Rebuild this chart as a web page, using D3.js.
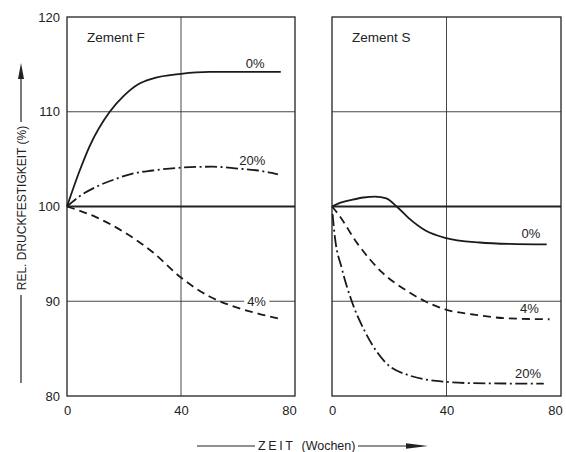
<!DOCTYPE html>
<html><head><meta charset="utf-8">
<script src="https://cdn.jsdelivr.net/npm/d3@7"></script>
<style>
html,body{margin:0;padding:0;background:#fff;}
text{font-family:"Liberation Sans",Arial,sans-serif;fill:#222;}
</style></head>
<body><svg id="c" width="566" height="452"></svg>
<script>
const xTicks=[0,40,80];
const yTicks=[80,90,100,110,120];
const panelTitles=["Zement F","Zement S"];
const seriesNames=["0%","4%","20%"];
// Zement F
const F0=[[0,100],[4.6,103.9],[8,106.4],[15,110],[20,111.7],[25,112.9],[30,113.5],[40,114],[50,114.2],[75,114.2]];
const F4=[[0,100],[10,98.9],[20,97.3],[30,95.2],[40,92.5],[50,90.5],[60,89.3],[67,88.7],[74,88.2]];
const F20=[[0,100],[5,101.2],[10.4,102.1],[17,102.9],[23.3,103.5],[30,103.8],[40,104.1],[51,104.2],[60,104],[67,103.8],[74,103.4]];
// Zement S
const S0=[[0,100],[3,100.4],[6.9,100.7],[11,100.95],[15.1,101.05],[19,100.85],[22.6,100],[26.7,98.8],[32.5,97.5],[39.5,96.7],[51.6,96.2],[62,96.05],[75,96]];
const S4=[[0,100],[1.9,99.3],[9.1,96],[17.3,93.1],[26.7,91],[32.5,90],[40,89.1],[49.4,88.6],[61,88.2],[76,88.1]];
const S20=[[0.2,99.2],[1,96.8],[3.4,93.5],[6.9,90],[11.5,86.8],[18.5,83.6],[26.7,82.2],[39.5,81.5],[49.4,81.35],[74,81.3]];
// label anchors (data units), order: 0%, 4%, 20%
const labF=[[66,115.1],[66.5,90],[65,104.9]];
const labS=[[69.5,97.1],[69,89.2],[68.5,82.4]];

const svg=d3.select("#c");
const y=d3.scaleLinear().domain([80,120]).range([396,17]);
const panels=[
  {x0:67,x1:295,title:panelTitles[0],series:[F0,F4,F20],labs:labF},
  {x0:332,x1:561,title:panelTitles[1],series:[S0,S4,S20],labs:labS}
];
const dashes=[null,"8,5","12,3.5,2,3.5"];
const font="Liberation Sans, Arial, sans-serif";
panels.forEach((p,pi)=>{
  const x=d3.scaleLinear().domain([0,80]).range([p.x0,p.x1]);
  const g=svg.append("g");
  g.selectAll("line.h").data([90,110]).enter().append("line")
    .attr("x1",p.x0).attr("x2",p.x1).attr("y1",d=>y(d)).attr("y2",d=>y(d))
    .attr("stroke","#333").attr("stroke-width",0.9);
  g.append("line").attr("x1",x(40)).attr("x2",x(40)).attr("y1",y(80)).attr("y2",y(120))
    .attr("stroke","#333").attr("stroke-width",0.9);
  g.append("line").attr("x1",p.x0).attr("x2",p.x1).attr("y1",y(100)).attr("y2",y(100))
    .attr("stroke","#222").attr("stroke-width",2);
  g.append("rect").attr("x",p.x0).attr("y",y(120)).attr("width",p.x1-p.x0).attr("height",y(80)-y(120))
    .attr("fill","none").attr("stroke","#222").attr("stroke-width",1.3);
  const xa=d3.axisBottom(x).tickValues(xTicks).tickSize(0).tickPadding(10);
  const ax=g.append("g").attr("transform",`translate(0,${y(80)})`).call(xa);
  ax.select(".domain").remove();
  ax.selectAll("text").attr("font-size",13).attr("fill","#222").style("font-family",font)
    .attr("dx",d=>d===80?-6:0);
  if(pi===0){
    const ya=d3.axisLeft(y).tickValues(yTicks).tickSize(0).tickPadding(7);
    const ay=g.append("g").attr("transform",`translate(${p.x0},0)`).call(ya);
    ay.select(".domain").remove();
    ay.selectAll("text").attr("font-size",13).attr("fill","#222").style("font-family",font);
  }
  g.append("text").attr("x",p.x0+20).attr("y",y(120)+25).attr("font-size",13.5).text(p.title);
  const line=d3.line().x(d=>x(d[0])).y(d=>y(d[1])).curve(d3.curveMonotoneX);
  p.series.forEach((s,i)=>{
    const lb=p.labs[i];
    const t=g.append("text").attr("x",x(lb[0])).attr("y",y(lb[1])+4.5).attr("text-anchor","middle")
      .attr("font-size",13).text(seriesNames[i]);
    const bb=t.node().getBBox();
    g.insert("rect",()=>t.node()).attr("x",bb.x-3).attr("y",bb.y+2).attr("width",bb.width+6).attr("height",bb.height-4).attr("fill","#fff");
  });
  p.series.forEach((s,i)=>{
    g.append("path").attr("d",line(s)).attr("fill","none").attr("stroke","#1a1a1a")
      .attr("stroke-width",1.8).attr("stroke-dasharray",dashes[i]);
  });
});
// y title
svg.append("line").attr("x1",21).attr("x2",21).attr("y1",383).attr("y2",295).attr("stroke","#222").attr("stroke-width",1.2);
svg.append("line").attr("x1",21).attr("x2",21).attr("y1",122).attr("y2",72).attr("stroke","#222").attr("stroke-width",1.2);
svg.append("path").attr("d","M21,63 L24,79 L18,79 Z").attr("fill","#222");
svg.append("text").attr("transform","translate(25.5,208) rotate(-90)").attr("text-anchor","middle")
  .attr("font-size",12).text("REL. DRUCKFESTIGKEIT   (%)");
// x title
svg.append("line").attr("x1",197).attr("x2",255).attr("y1",446).attr("y2",446).attr("stroke","#222").attr("stroke-width",1.2);
svg.append("line").attr("x1",358).attr("x2",415).attr("y1",446).attr("y2",446).attr("stroke","#222").attr("stroke-width",1.2);
svg.append("path").attr("d","M428,446 L406,443.3 L406,448.7 Z").attr("fill","#222");
const xt=svg.append("text").attr("x",258).attr("y",450).attr("font-size",12.5);
xt.append("tspan").attr("letter-spacing",2.6).text("ZEIT");
xt.append("tspan").attr("dx",6).text("(Wochen)");
</script></body></html>
